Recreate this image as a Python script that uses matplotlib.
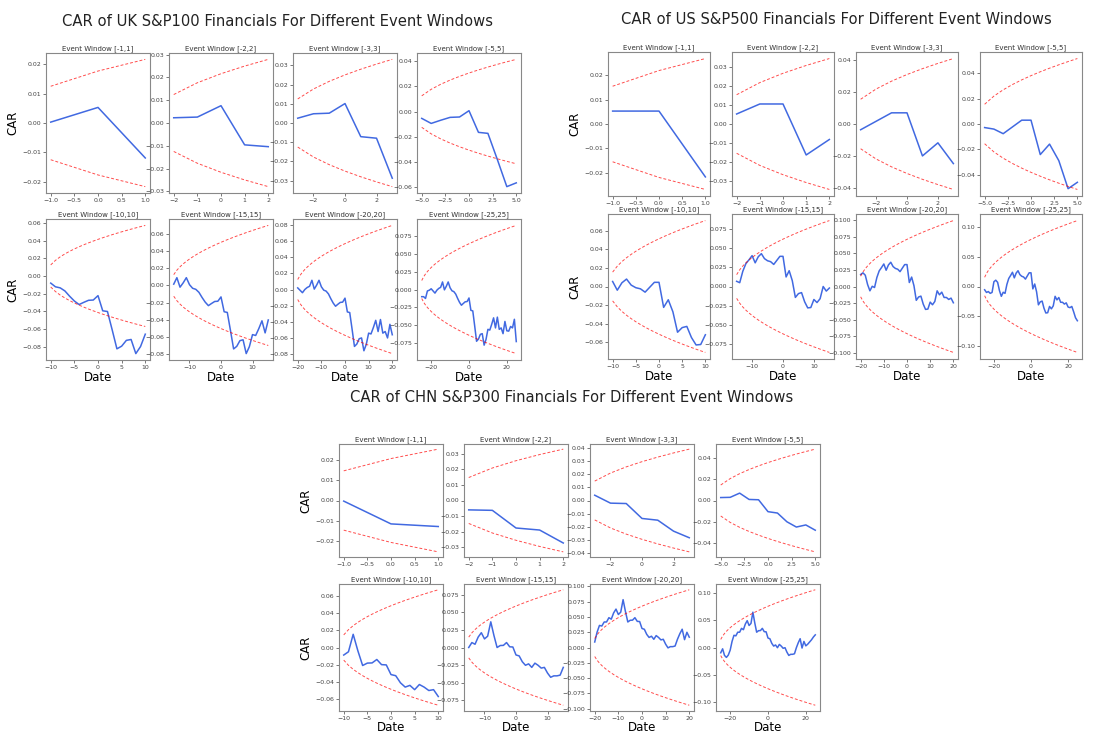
import numpy as np
import matplotlib.pyplot as plt

# event windows [-k, k] shown in each 2x4 block
windows = [1, 2, 3, 5, 10, 15, 20, 25]
window_titles = ["Event Window [-%d,%d]" % (k, k) for k in windows]

# daily abnormal returns for days -25 .. 25
uk_ar = [-0.010, 0.0, -0.0025, 0.0105, 0.001,
         0.002, -0.003, -0.003, 0.004, 0.0025,
         0.0015, 0.0075, -0.011, 0.005, 0.006,
         -0.0081, -0.0042, -0.0012, -0.0035, -0.006,
         -0.0054, -0.004, 0.0025, 0.0023, 0.0003, 0.005,
         -0.0172, -0.0008, -0.0208, -0.0215, 0.003,
         0.0066, 0.001, -0.016, 0.008, 0.014,
         -0.001, 0.008, 0.009, -0.014, 0.015,
         -0.017, 0.002, -0.008, 0.017, -0.013,
         -0.0005, 0.0065, -0.002, 0.012, -0.031]
us_ar = [-0.0055, -0.0045, 0.0015, -0.003, 0.0015,
         0.018, 0.0026, -0.0036, -0.014, -0.0095,
         0.0068, -0.0018, 0.015, 0.010, 0.005,
         0.0054, -0.0094, 0.008, 0.004, -0.0065,
         -0.0028, -0.0012, -0.0036, 0.0053, 0.0053, 0.0,
         -0.027, 0.0082, -0.013, -0.022, 0.005,
         0.0013, -0.012, -0.008, 0.0005, 0.0105,
         -0.004, 0.005, 0.016, -0.006, 0.004,
         -0.008, 0.0, -0.003, 0.002, -0.007,
         -0.001, 0.002, -0.009, -0.010, -0.005]
chn_ar = [-0.0096, 0.0072, -0.012, -0.0036, 0.0042,
          0.009, 0.016, 0.011, -0.001, 0.0066,
          0.0, 0.007, -0.0024, 0.0102, 0.0062,
          -0.0088, 0.0038, 0.0204, -0.0194, -0.017,
          0.0028, 0.0002, 0.004, -0.006, -0.0003, -0.0113,
          -0.0013, -0.0083, -0.005, 0.002, -0.005,
          0.006, -0.003, -0.004, 0.001, -0.008,
          -0.006, 0.002, 0.0, 0.001, 0.011,
          0.009, 0.0074, -0.017, 0.012, -0.008,
          0.003, 0.004, 0.004, 0.005, 0.004]

# one-day half width of the confidence band per market
uk_sigma = 0.0125
us_sigma = 0.0155
chn_sigma = 0.0147

panel_titles = ["CAR of UK S&P100 Financials For Different Event Windows",
                "CAR of US S&P500 Financials For Different Event Windows",
                "CAR of CHN S&P300 Financials For Different Event Windows"]

# pixel layout of the three blocks: column lefts, width, rows (top, bottom), title centre
layouts = [
    dict(cols=[46, 169, 293, 417], w=104, rows=[(53, 193), (219, 360)], title=(277, 21), date_pad=1),
    dict(cols=[608, 732, 856, 980], w=102, rows=[(52, 196), (214, 359)], title=(836, 20), date_pad=1),
    dict(cols=[339, 464, 590, 716], w=104, rows=[(444, 557), (584, 711)], title=(572, 397), date_pad=0),
]

W, H = 1107, 733
fig = plt.figure(figsize=(W / 100, H / 100), dpi=100)


def draw_block(ar, sigma, title, lay):
    ar = np.asarray(ar)
    fig.text(lay["title"][0] / W, 1 - lay["title"][1] / H, title,
             ha="center", va="center", fontsize=10.6, color="#222222")
    for i, k in enumerate(windows):
        r, c = divmod(i, 4)
        top, bot = lay["rows"][r]
        left = lay["cols"][c]
        ax = fig.add_axes([left / W, 1 - bot / H, lay["w"] / W, (bot - top) / H])
        d = np.arange(-k, k + 1)
        car = np.cumsum(ar[25 - k:25 + k + 1])
        band = sigma * np.sqrt(np.arange(1, 2 * k + 2))
        ax.plot(d, car, color="royalblue", lw=1.1)
        ax.plot(d, band, color="red", ls=(0, (3, 2)), lw=0.7, alpha=0.7)
        ax.plot(d, -band, color="red", ls=(0, (3, 2)), lw=0.7, alpha=0.7)
        ax.set_title(window_titles[i], fontsize=5, pad=2, color="#333333")
        ax.tick_params(labelsize=4.5, length=2, width=0.5, pad=1.5, colors="#444444")
        for s in ax.spines.values():
            s.set_color("#888888")
            s.set_linewidth(0.8)
        if c == 0:
            ax.set_ylabel("CAR", fontsize=8.5, labelpad=2)
        if r == 1:
            ax.set_xlabel("Date", fontsize=8.5, labelpad=lay["date_pad"])


draw_block(uk_ar, uk_sigma, panel_titles[0], layouts[0])
draw_block(us_ar, us_sigma, panel_titles[1], layouts[1])
draw_block(chn_ar, chn_sigma, panel_titles[2], layouts[2])

fig.savefig("out.png", dpi=100)
